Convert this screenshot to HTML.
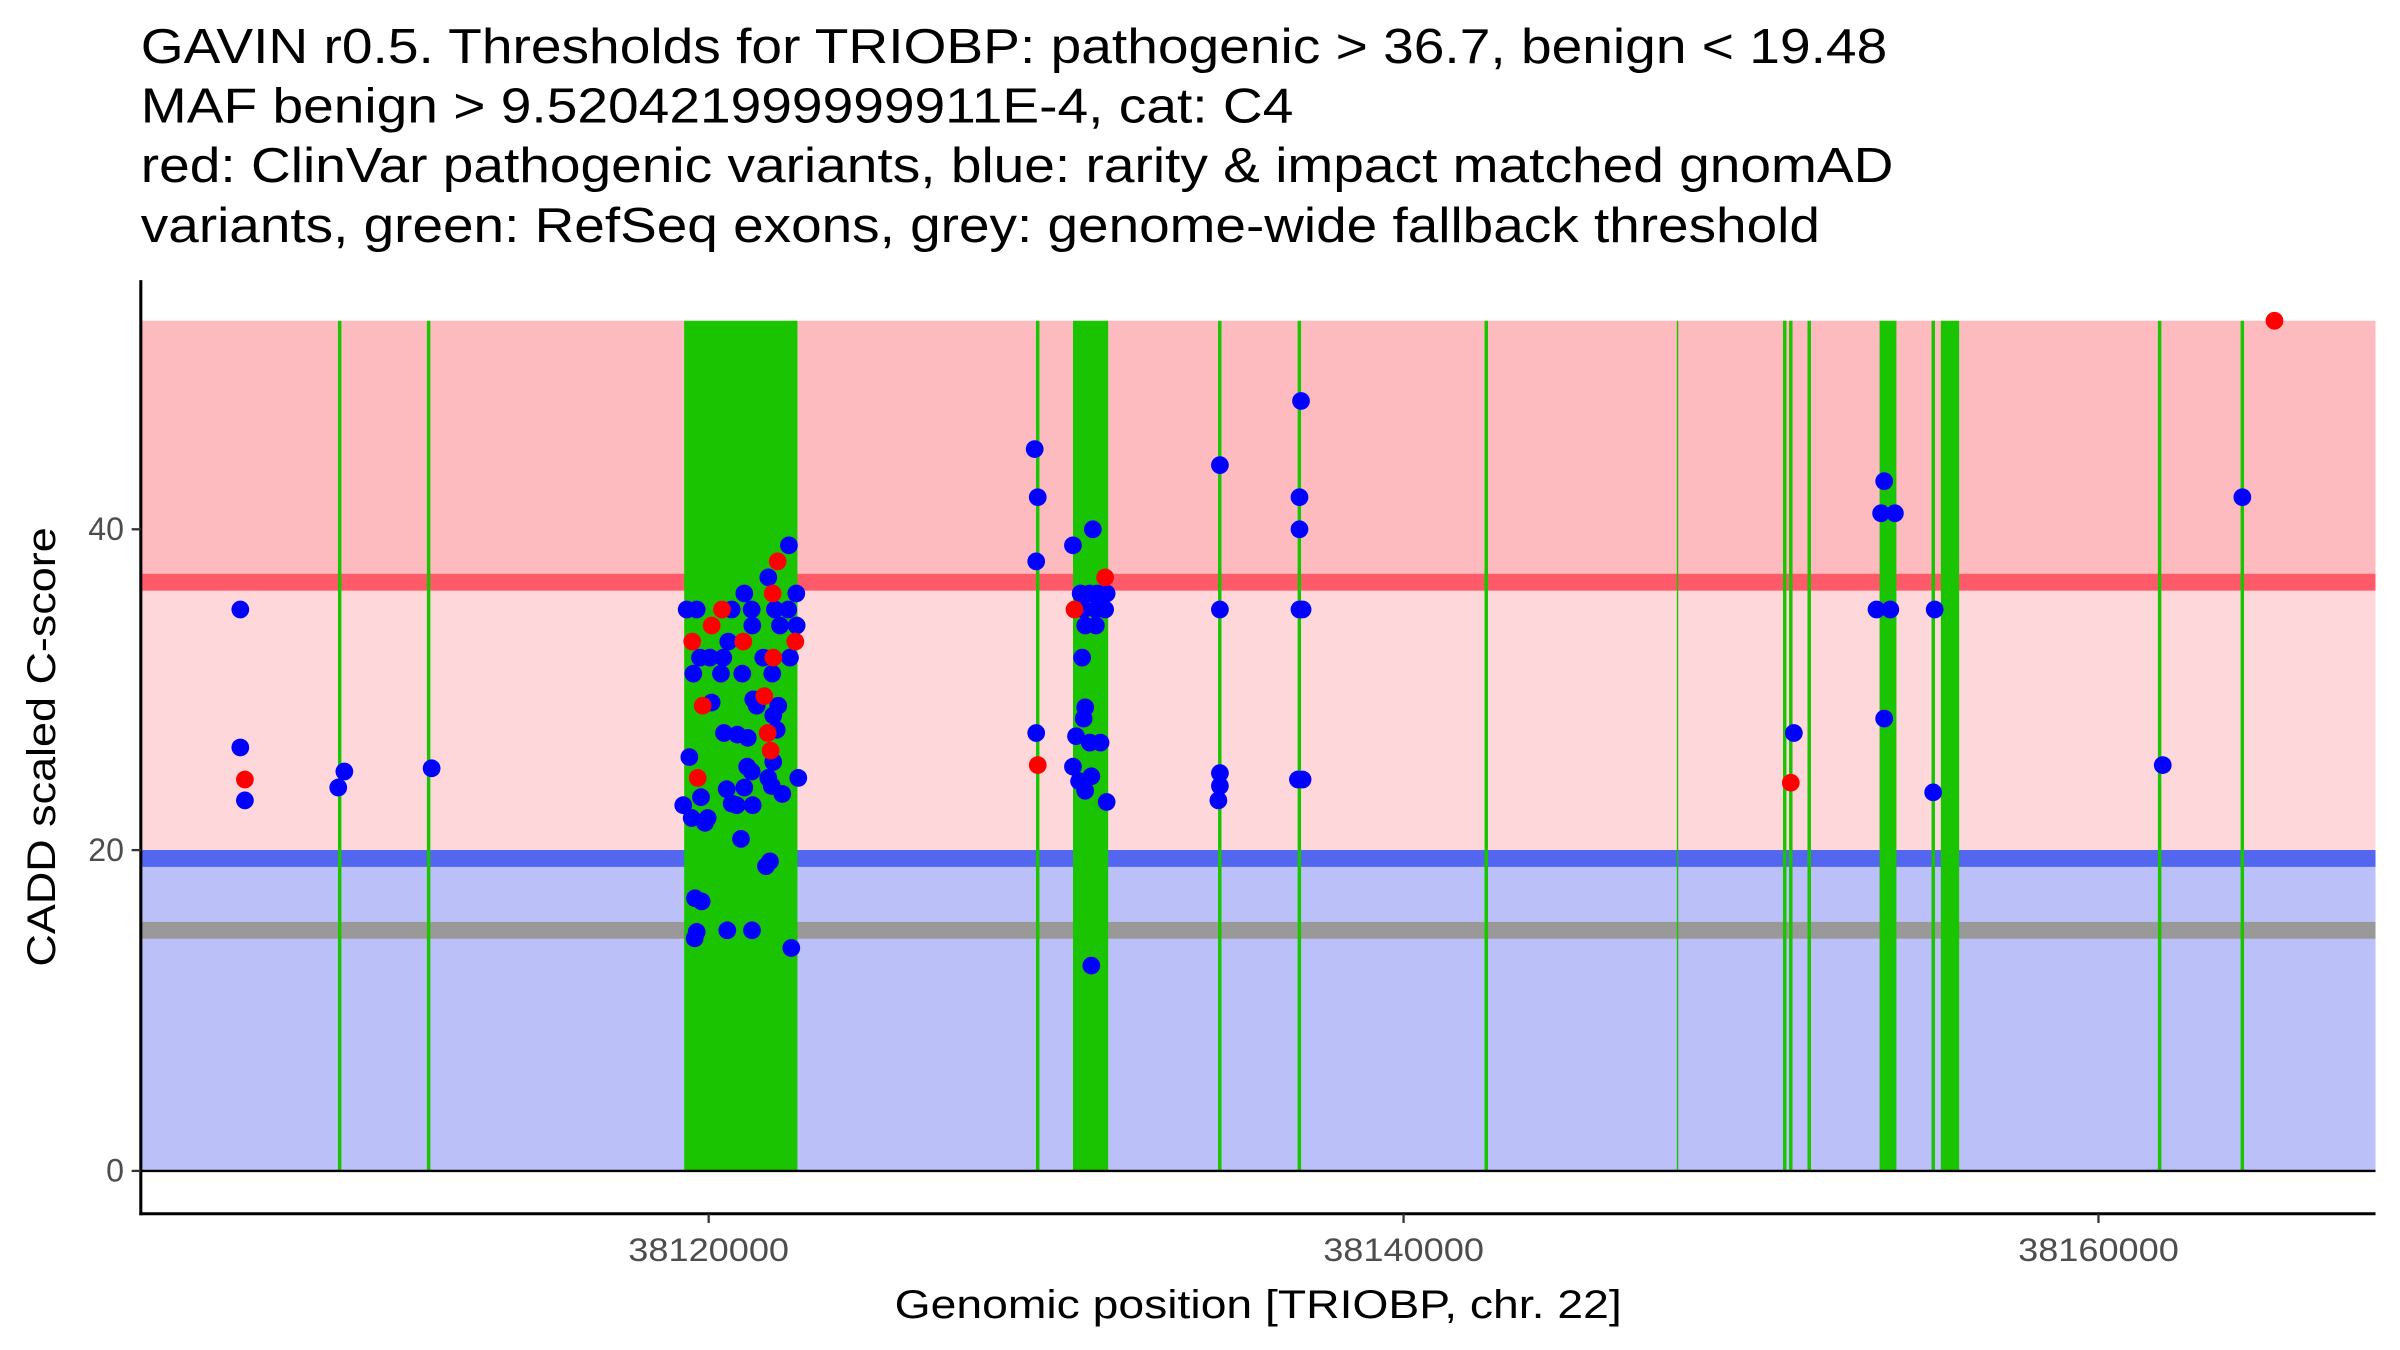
<!DOCTYPE html>
<html><head><meta charset="utf-8"><style>
html,body{margin:0;padding:0;background:#fff;width:2400px;height:1350px;overflow:hidden}
svg{display:block}
text{font-family:"Liberation Sans",Arial,sans-serif}
</style></head><body>
<svg id="chart" width="2400" height="1350" viewBox="0 0 1568 882" preserveAspectRatio="none" xmlns="http://www.w3.org/2000/svg">
<g font-size="32" fill="#000">
<text x="92" y="41" textLength="1141" lengthAdjust="spacingAndGlyphs">GAVIN r0.5. Thresholds for TRIOBP: pathogenic &gt; 36.7, benign &lt; 19.48</text>
<text x="92" y="80" textLength="753" lengthAdjust="spacingAndGlyphs">MAF benign &gt; 9.520421999999911E-4, cat: C4</text>
<text x="92" y="119" textLength="1145" lengthAdjust="spacingAndGlyphs">red: ClinVar pathogenic variants, blue: rarity &amp; impact matched gnomAD</text>
<text x="92" y="158" textLength="1097" lengthAdjust="spacingAndGlyphs">variants, green: RefSeq exons, grey: genome-wide fallback threshold</text>
</g>
<g id="bands"></g>
<g id="lines"></g>
<g id="exons"></g>
<g id="points"></g>
<g id="axes"></g>
<text font-size="26" text-anchor="middle" textLength="287" lengthAdjust="spacingAndGlyphs" transform="translate(36,488) rotate(-90)">CADD scaled C-score</text>
<text font-size="26" text-anchor="middle" x="822" y="861" textLength="475" lengthAdjust="spacingAndGlyphs">Genomic position [TRIOBP, chr. 22]</text>
</svg>
<script>
const BASE = 38120000;
const xTicks = [38120000, 38140000, 38160000];
const yTicks = [0, 20, 40];
const pathThreshold = 36.7;
const benignThreshold = 19.48;
const fallbackThreshold = 15;
const bandTop = 53;
// exon start/end offsets from BASE (bp)
const exonStarts = [-10670,-8110,-705,9420,10485,14660,16950,22330,27865,30920,31095,31625,33700,35195,35463,41710,44090];
const exonEnds   = [-10570,-8010,2555,9520,11498,14760,17050,22430,27905,31020,31195,31725,34185,35295,35991,41810,44190];
// blue variants: offset bp and CADD score
const blueX = [-13480,-13480,-13348,-10661,-10485,-7974,
2311,1716,1026,2522,-633,-345,662,1237,1908,2291,1255,2052,2532,565,-250,37,421,1571,2340,-443,354,967,1830,86,1284,1381,2003,1859,1957,441,825,1124,-556,1859,1108,1237,1716,2579,1813,2119,518,1026,-222,-731,662,806,1266,-489,-29,-106,930,1764,1649,-394,-202,-345,-403,535,1247,2378,
9383,9471,9427,9427,
10485,11057,10705,10969,11189,11454,10793,11145,11410,10837,11145,10749,10837,10793,10573,10969,11278,10485,10661,11013,10837,11454,11013,
14714,14714,14714,14714,14670,17048,17004,17004,17004,17093,16960,17093,
31233,33833,33744,34141,33612,34009,33833,35242,35286,41850,44141];
const blueY = [35,26.4,23.1,23.9,24.9,25.1,
39,37,36,36,35,35,35,35,35,35,34,34,34,33,32,32,32,32,32,31,31,31,31,29.2,29.4,29,29,28.4,27.5,27.3,27.2,27,25.8,25.5,25.2,24.9,24.5,24.5,24,23.5,23.8,23.9,23.3,22.8,22.9,22.8,22.8,22,22,21.7,20.7,19.3,19,17,16.8,14.9,14.5,15,15,13.9,
45,42,38,27.3,
39,40,36,36,36,36,35,35,35,34,34,32,28.9,28.2,27.1,26.7,26.7,25.2,24.3,24.6,23.7,23,12.8,
44,35,24.8,24,23.1,48,42,40,35,35,24.4,24.4,
27.3,43,41,41,35,35,28.2,23.6,35,25.3,42];
// red ClinVar pathogenic variants
const redX = [-13348,1986,1842,383,86,-472,996,2493,1859,-173,1600,1698,1784,-316,9471,11410,10529,31145,45066];
const redY = [24.4,38,36,35,34,33,33,33,32,29,29.6,27.3,26.2,24.5,25.3,37,35,24.2,53];

const NS = "http://www.w3.org/2000/svg";
const L = 92, R = 1552, T = 183, B = 793;
function xs(off){ return 463 + off * 0.0227; }
function xsAbs(bp){ return xs(bp - BASE); }
function ys(v){ return 765 - v * 10.48; }
function mk(tag, attrs, parent){ const e = document.createElementNS(NS, tag); for (const k in attrs) e.setAttribute(k, attrs[k]); parent.appendChild(e); return e; }

const bands = document.getElementById('bands');
let e;
e = mk('rect', {x:L, y:ys(bandTop), width:R-L, height:ys(pathThreshold)-ys(bandTop), fill:'#FDBBBF'}, bands);


e = mk('rect', {x:L, y:ys(pathThreshold), width:R-L, height:ys(benignThreshold)-ys(pathThreshold), fill:'#FED7DB'}, bands);


e = mk('rect', {x:L, y:ys(benignThreshold), width:R-L, height:ys(0)-ys(benignThreshold), fill:'#BBC0F9'}, bands);



const lines = document.getElementById('lines');
e = mk('rect', {x:L, y:ys(pathThreshold)-5.5, width:R-L, height:11, fill:'#FF5A6A'}, lines);


e = mk('rect', {x:L, y:ys(benignThreshold)-5.5, width:R-L, height:11, fill:'#5366EF'}, lines);


e = mk('rect', {x:L, y:ys(fallbackThreshold)-5.5, width:R-L, height:11, fill:'#999999'}, lines);



const exG = document.getElementById('exons');
for (let i = 0; i < exonStarts.length; i++) {
  const x0 = xs(exonStarts[i]), x1 = xs(exonEnds[i]);
  e = mk('rect', {x:x0, y:ys(bandTop), width:Math.max(0.7, x1-x0), height:ys(0)-ys(bandTop), fill:'#1BC400'}, exG);
  
  
}

const pG = document.getElementById('points');
for (let i = 0; i < blueX.length; i++) {
  e = mk('circle', {cx:xs(blueX[i]), cy:ys(blueY[i]), r:5.8, fill:'#0000FF'}, pG);
  
  
}
for (let i = 0; i < redX.length; i++) {
  e = mk('circle', {cx:xs(redX[i]), cy:ys(redY[i]), r:5.8, fill:'#FF0000'}, pG);
  
  
}

const ax = document.getElementById('axes');
e = mk('line', {x1:L, y1:T, x2:L, y2:B+1, stroke:'#000', 'stroke-width':2}, ax);


e = mk('line', {x1:L-1, y1:B, x2:R, y2:B, stroke:'#000', 'stroke-width':2}, ax);


e = mk('line', {x1:L, y1:ys(0), x2:R, y2:ys(0), stroke:'#000', 'stroke-width':1.5}, ax);


for (const t of yTicks) {
  e = mk('line', {x1:L-6, y1:ys(t), x2:L, y2:ys(t), stroke:'#333', 'stroke-width':1.5}, ax);
  
  
  e = mk('text', {x:L-11, y:ys(t)+7, 'text-anchor':'end', 'font-size':21, fill:'#4d4d4d'}, ax);
  e.textContent = String(t);
  
  
}
for (const t of xTicks) {
  e = mk('line', {x1:xsAbs(t), y1:B, x2:xsAbs(t), y2:B+6, stroke:'#333', 'stroke-width':1.5}, ax);
  
  
  e = mk('text', {x:xsAbs(t), y:B+31, 'text-anchor':'middle', 'font-size':21, fill:'#4d4d4d', textLength:105, lengthAdjust:'spacingAndGlyphs'}, ax);
  e.textContent = String(t);
  
  
}
</script>
</body></html>
